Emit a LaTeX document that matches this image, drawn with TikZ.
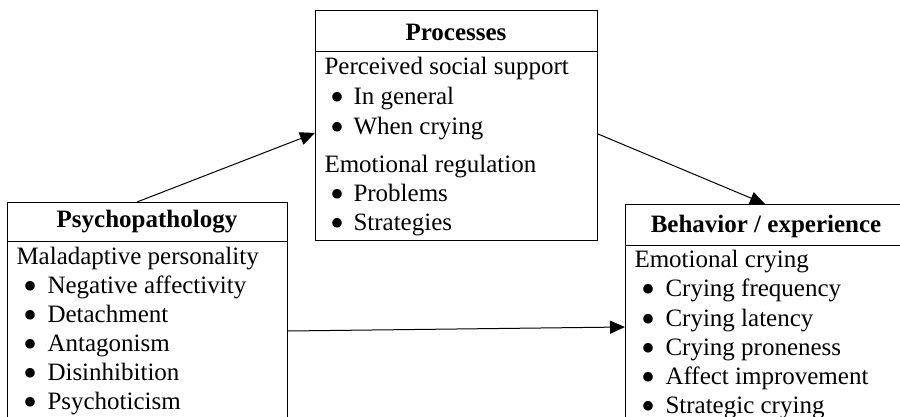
\documentclass[tikz,border=0pt]{standalone}
\usepackage{fontspec}
\usepackage{graphicx}
\setmainfont{Liberation Serif}
\usetikzlibrary{arrows.meta}
\newcommand{\mybul}{\raisebox{-6pt}[0pt][0pt]{\scalebox{1.6}{\textbullet}}}
\newcommand{\myitem}[2][23pt]{\makebox[#1][l]{\hspace{-1pt}\mybul}#2}
\begin{document}
\begin{tikzpicture}[x=1pt,y=-1pt, line width=1pt,
  box/.style={draw, rectangle, inner sep=0pt, anchor=north west},
  txt/.style={anchor=base west, inner sep=0pt, font=\fontsize{25}{30}\selectfont},
  ttl/.style={anchor=base, inner sep=0pt, font=\fontsize{25}{30}\selectfont\bfseries},
  conn/.style={-{Triangle[length=15pt,width=13pt]}, line width=1pt}]
\clip (0,0) rectangle (900,417);
% boxes
\node[box, minimum width=280pt, minimum height=240pt] (psy) at (7,202) {};
\node[box, minimum width=282pt, minimum height=230pt] (proc) at (315,10) {};
\node[box, minimum width=282pt, minimum height=240pt] (beh) at (625,204) {};
\draw ([yshift=-39pt]psy.north west) -- ([yshift=-39pt]psy.north east);
\draw ([yshift=-42pt]proc.north west) -- ([yshift=-42pt]proc.north east);
\draw ([yshift=-41pt]beh.north west) -- ([yshift=-41pt]beh.north east);
% titles
\node[ttl] (psyT) at (147,227) {Psychopathology};
\node[ttl] (procT) at (456,41) {Processes};
\node[ttl] (behT) at (766,233) {Behavior / experience};
% psychopathology
\node[txt] (p0) at (16,264) {Maladaptive personality};
\node[txt] (p1) at (24,293) {\myitem{Negative affectivity}};
\node[txt] (p2) at (24,322) {\myitem{Detachment}};
\node[txt] (p3) at (24,351) {\myitem{Antagonism}};
\node[txt] (p4) at (24,380) {\myitem{Disinhibition}};
\node[txt] (p5) at (24,409) {\myitem{Psychoticism}};
% processes
\node[txt] (q0) at (324,75) {Perceived social support};
\node[txt] (q1) at (331,105) {\myitem[22pt]{In general}};
\node[txt] (q2) at (331,135) {\myitem[22pt]{When crying}};
\node[txt] (q3) at (324,172) {Emotional regulation};
\node[txt] (q4) at (331,201) {\myitem[22pt]{Problems}};
\node[txt] (q5) at (331,230) {\myitem[22pt]{Strategies}};
% behavior
\node[txt] (b0) at (634,267) {Emotional crying};
\node[txt] (b1) at (642,296) {\myitem{Crying frequency}};
\node[txt] (b2) at (642,326) {\myitem{Crying latency}};
\node[txt] (b3) at (642,355) {\myitem{Crying proneness}};
\node[txt] (b4) at (642,384) {\myitem{Affect improvement}};
\node[txt] (b5) at (642,413) {\myitem{Strategic crying}};
% connectors
\draw[conn] ([xshift=130pt]psy.north west) -- ([yshift=-123pt]proc.north west);
\draw[conn] ([yshift=-124pt]proc.north east) -- ([xshift=140pt]beh.north west);
\draw[conn] ([yshift=-129pt]psy.north east) -- ([yshift=-123pt]beh.north west);
\end{tikzpicture}
\end{document}
